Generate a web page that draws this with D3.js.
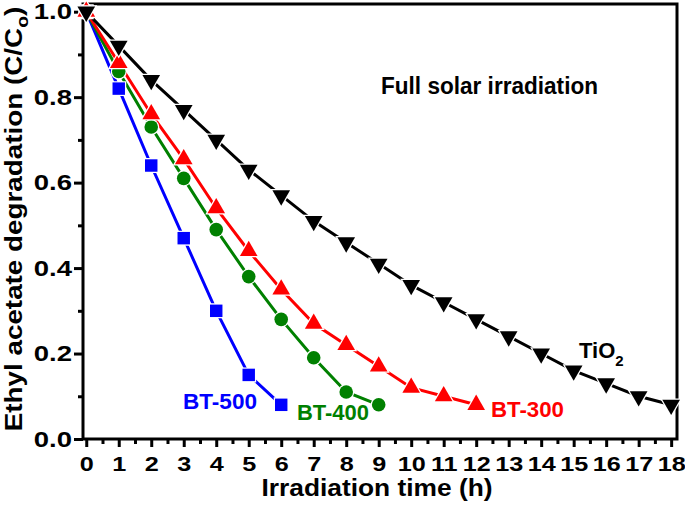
<!DOCTYPE html>
<html><head><meta charset="utf-8">
<script src="https://cdn.jsdelivr.net/npm/d3@7"></script>
<style>body{margin:0;background:#fff}svg{display:block}text{font-family:"Liberation Sans",Arial,sans-serif;font-weight:bold}</style>
</head><body><svg id="c" width="685" height="508"></svg>
<script>
const tiTimes = [0,1,2,3,4,5,6,7,8,9,10,11,12,13,14,15,16,17,18];
const tiValues = [1.0,0.92,0.84,0.77,0.70,0.63,0.57,0.51,0.46,0.41,0.36,0.32,0.28,0.24,0.20,0.16,0.13,0.10,0.08];
const bt300Times = [0,1,2,3,4,5,6,7,8,9,10,11,12];
const bt300Values = [1.0,0.88,0.76,0.655,0.54,0.44,0.35,0.27,0.22,0.17,0.12,0.10,0.08];
const bt400Times = [0,1,2,3,4,5,6,7,8,9];
const bt400Values = [1.0,0.86,0.73,0.61,0.49,0.38,0.28,0.19,0.11,0.08];
const bt500Times = [0,1,2,3,4,5,6];
const bt500Values = [1.0,0.82,0.64,0.47,0.30,0.15,0.08];
const xTicks = d3.range(0,19);
const yTicks = [0.0,0.2,0.4,0.6,0.8,1.0];
const seriesNames = ["BT-500","BT-400","BT-300","TiO2"];

const svg = d3.select("#c");
const x = d3.scaleLinear().domain([-0.1,18.18]).range([83,677]);
const y = d3.scaleLinear().domain([0,1.018]).range([439,4]);

// frame
svg.append("rect").attr("x",x.range()[0]).attr("y",y.range()[1])
  .attr("width",x.range()[1]-x.range()[0]).attr("height",y.range()[0]-y.range()[1])
  .attr("fill","none").attr("stroke","#000").attr("stroke-width",3);

// axes
const xAxis = svg.append("g").attr("transform",`translate(0,${y(0)})`)
  .call(d3.axisBottom(x).tickValues(xTicks).tickFormat(d3.format("d")).tickSize(8).tickPadding(9));
const xMinor = svg.append("g").attr("transform",`translate(0,${y(0)})`)
  .call(d3.axisBottom(x).tickValues(xTicks.slice(0,-1).map(d=>d+0.5)).tickFormat("").tickSize(5));
const yAxis = svg.append("g").attr("transform",`translate(${x.range()[0]},0)`)
  .call(d3.axisLeft(y).tickValues(yTicks).tickFormat(d3.format(".1f")).tickSize(9).tickPadding(2));
const yMinor = svg.append("g").attr("transform",`translate(${x.range()[0]},0)`)
  .call(d3.axisLeft(y).tickValues([0.1,0.3,0.5,0.7,0.9]).tickFormat("").tickSize(5));
[xAxis,xMinor,yAxis,yMinor].forEach(g=>{
  g.select(".domain").remove();
  g.selectAll("line").attr("stroke","#000").attr("stroke-width",3);
  g.selectAll("text").attr("fill","#000").style("font-family","'Liberation Sans',Arial,sans-serif").style("font-weight","bold");
});
xAxis.selectAll("text").style("font-size","21px")
  .attr("transform",function(){return `translate(0,${this.getAttribute("y")}) scale(1.2,1) translate(0,${-this.getAttribute("y")})`;});
const ySx = 1.25;
yAxis.selectAll("text").style("font-size","22px")
  .attr("x",-11/ySx).attr("transform",`scale(${ySx},1)`);

// series
const series = [
  {name:seriesNames[0], t:bt500Times, v:bt500Values, color:"#0000ff", sym:"square"},
  {name:seriesNames[1], t:bt400Times, v:bt400Values, color:"#008000", sym:"circle"},
  {name:seriesNames[2], t:bt300Times, v:bt300Values, color:"#ff0000", sym:"up"},
  {name:seriesNames[3], t:tiTimes, v:tiValues, color:"#000000", sym:"down"}
];
const line = d3.line().x(d=>x(d[0])).y(d=>y(d[1]));
series.forEach(s=>{
  const pts = s.t.map((t,i)=>[t,s.v[i]]);
  svg.append("path").datum(pts).attr("d",line).attr("fill","none")
    .attr("stroke",s.color).attr("stroke-width",3);
});
series.forEach(s=>{
  const pts = s.t.map((t,i)=>[t,s.v[i]]);
  let symType, size, rot=0;
  if(s.sym==="square"){symType=d3.symbolSquare; size=155;}
  else if(s.sym==="circle"){symType=d3.symbolCircle; size=145;}
  else {symType=d3.symbolTriangle; size=135; if(s.sym==="down") rot=180;}
  svg.append("g").selectAll("path").data(pts).join("path")
    .attr("d",d3.symbol().type(symType).size(size))
    .attr("transform",d=>`translate(${x(d[0])},${y(d[1])}) rotate(${rot})`)
    .attr("fill",s.color).attr("stroke","#fff").attr("stroke-width",2.5)
    .style("paint-order","stroke");
});

// labels
function lab(txt,px,py,color,size,len){
  const t = svg.append("text").attr("x",px).attr("y",py).attr("fill",color)
    .style("font-size",size+"px").text(txt);
  if(len) t.attr("textLength",len).attr("lengthAdjust","spacingAndGlyphs");
  return t;
}
lab(seriesNames[0],183,409,"#0000ff",22,74);
lab(seriesNames[1],297,420,"#008000",22,72);
lab(seriesNames[2],491,417,"#ff0000",22,73);
const ti = lab("TiO",579,358,"#000",22);
ti.append("tspan").attr("dy",8).style("font-size","15px").text("2");
lab("Full solar irradiation",381,94,"#000",23,217);

// axis titles
lab("Irradiation time (h)",377,496,"#000",24,231).attr("text-anchor","middle");
const yt = svg.append("text").attr("text-anchor","middle").style("font-size","23px").attr("fill","#000");
yt.append("tspan").text("Ethyl acetate degradation (C/C");
yt.append("tspan").attr("dy",6).style("font-size","16px").text("o");
yt.append("tspan").attr("dy",-6).text(")");
const w = yt.node().getComputedTextLength();
yt.attr("transform",`translate(22,219) rotate(-90) scale(${425/w},1)`);
</script></body></html>
